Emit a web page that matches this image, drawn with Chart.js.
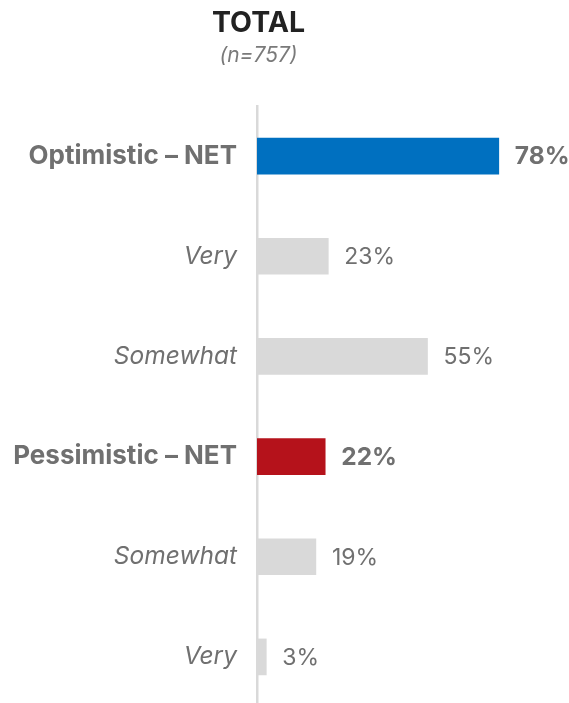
<!DOCTYPE html>
<html lang="en">
<head>
  <meta charset="UTF-8">
  <title>Optimism – TOTAL</title>
  <script src="https://cdn.jsdelivr.net/npm/chart.js"></script>
  <style>
    html, body {
      margin: 0;
      padding: 0;
      background: #ffffff;
      overflow: hidden;
    }
    canvas { display: block; }
  </style>
</head>
<body>
  <canvas id="optChart" width="569" height="707"></canvas>

  <script>
    const categories = ["Optimistic – NET", "Very", "Somewhat", "Pessimistic – NET", "Somewhat", "Very"];
    const shares = [78, 23, 55, 22, 19, 3];
    const isNet = [true, false, false, true, false, false];
    const barColors = ["#0070C0", "#D9D9D9", "#D9D9D9", "#B5121B", "#D9D9D9", "#D9D9D9"];
    const titleText = "TOTAL";
    const baseText = "(n=757)";

    const FONT = "Inter, 'Noto Sans', sans-serif";
    const GREY = "#707070";

    // heading over the bars
    const headerPlugin = {
      id: "header",
      afterDraw(chart) {
        const ctx = chart.ctx;
        ctx.save();
        ctx.textAlign = "center";
        ctx.textBaseline = "alphabetic";
        ctx.fillStyle = "#222222";
        ctx.font = "bold 28.5px " + FONT;
        ctx.fillText(titleText, 258.5, 32);
        ctx.fillStyle = "#7a7a7a";
        ctx.font = "italic 21px " + FONT;
        ctx.fillText(baseText, 258.5, 62);
        ctx.restore();
      }
    };

    // percentage at the end of each bar
    const valuePlugin = {
      id: "values",
      afterDatasetsDraw(chart) {
        const ctx = chart.ctx;
        const meta = chart.getDatasetMeta(0);
        ctx.save();
        ctx.textAlign = "left";
        ctx.textBaseline = "middle";
        ctx.fillStyle = GREY;
        meta.data.forEach((bar, i) => {
          ctx.font = (isNet[i] ? "bold 24.5px " : "23px ") + FONT;
          ctx.fillText(shares[i] + "%", bar.x + 16, bar.y + 1);
        });
        ctx.restore();
      }
    };

    new Chart(document.getElementById("optChart"), {
      type: "bar",
      data: {
        labels: categories,
        datasets: [{
          data: shares,
          backgroundColor: barColors,
          borderWidth: 0,
          barThickness: 36
        }]
      },
      options: {
        indexAxis: "y",
        responsive: false,
        animation: false,
        events: [],
        layout: { padding: { top: 106, right: 2, bottom: 0, left: 0 } },
        plugins: {
          legend: { display: false },
          tooltip: { enabled: false }
        },
        scales: {
          x: {
            min: 0,
            max: 100,
            display: false
          },
          y: {
            afterFit(scale) {
              scale.width = 257;
              // let the axis run down to the canvas edge
              scale.paddingTop = 0;
              scale.paddingBottom = 0;
            },
            grid: { display: false, drawTicks: false },
            border: { display: true, color: "#D9D9D9", width: 2.5 },
            ticks: {
              padding: 20,
              color: GREY,
              font: (c) => isNet[c.index]
                ? { family: FONT, size: 26, weight: "bold" }
                : { family: FONT, size: 24.5, style: "italic" }
            }
          }
        }
      },
      plugins: [headerPlugin, valuePlugin]
    });
  </script>
</body>
</html>
